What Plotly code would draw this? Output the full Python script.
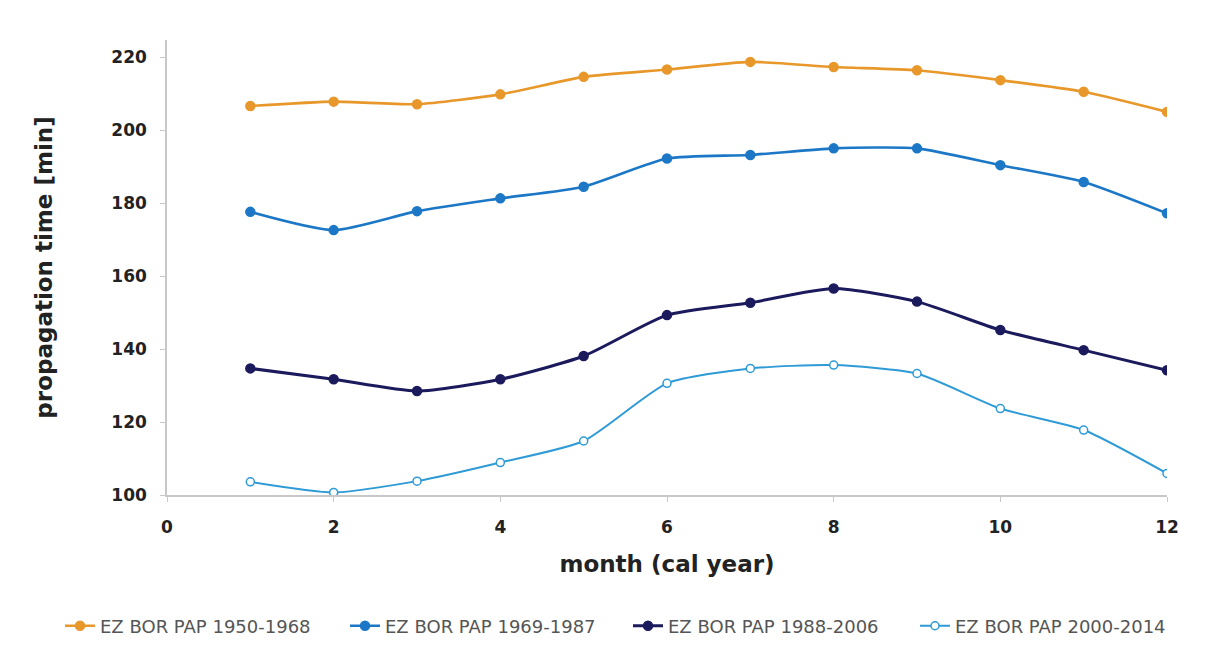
import plotly.graph_objects as go

months = list(range(1, 13))

series_names = [
    "EZ BOR PAP 1950-1968",
    "EZ BOR PAP 1969-1987",
    "EZ BOR PAP 1988-2006",
    "EZ BOR PAP 2000-2014",
]

ez_1950_1968 = [206.6, 207.8, 207.1, 209.8, 214.6, 216.6, 218.7, 217.3, 216.4, 213.7, 210.5, 205.0]
ez_1969_1987 = [177.6, 172.6, 177.8, 181.3, 184.5, 192.2, 193.2, 195.0, 195.0, 190.4, 185.8, 177.2]
ez_1988_2006 = [134.7, 131.7, 128.5, 131.7, 138.1, 149.3, 152.7, 156.6, 153.0, 145.2, 139.7, 134.2]
ez_2000_2014 = [103.6, 100.7, 103.8, 108.9, 114.8, 130.6, 134.7, 135.6, 133.3, 123.7, 117.8, 105.9]

x_ticks = [0, 2, 4, 6, 8, 10, 12]
y_ticks = [100, 120, 140, 160, 180, 200, 220]

styles = [
    dict(color="#E8982B", width=2.6, msize=9, fill="#E8982B"),
    dict(color="#1C78C6", width=2.6, msize=9, fill="#1C78C6"),
    dict(color="#1B1A5C", width=3.0, msize=9, fill="#1B1A5C"),
    dict(color="#2E9AD6", width=2.0, msize=8, fill="white"),
]

# one single-entry legend per series so the row spacing is fixed
legend_ids = ["legend", "legend2", "legend3", "legend4"]
legend_x = [-0.107, 0.178, 0.461, 0.748]  # paper fractions of the plot width

fig = go.Figure()
for name, vals, st, lid in zip(series_names,
                               [ez_1950_1968, ez_1969_1987, ez_1988_2006, ez_2000_2014],
                               styles, legend_ids):
    fig.add_trace(go.Scatter(
        x=months, y=vals, name=name, mode="lines+markers", legend=lid,
        line=dict(color=st["color"], width=st["width"], shape="spline", smoothing=0.6),
        marker=dict(size=st["msize"], color=st["fill"], symbol="circle",
                    line=dict(color=st["color"], width=1.5)),
    ))

tick_font = dict(family="DejaVu Sans", size=17, color="#222222")
title_font = dict(family="DejaVu Sans", size=23, color="#222222")

fig.update_layout(
    width=1218, height=646,
    showlegend=True,
    margin=dict(l=167, r=51, t=40, b=151, autoexpand=False),
    paper_bgcolor="white", plot_bgcolor="white",
    font=dict(family="DejaVu Sans"),
    xaxis=dict(
        range=[0, 12], tickvals=x_ticks, ticktext=[f"<b>{v}</b>" for v in x_ticks],
        showgrid=False, zeroline=False, showline=True, linecolor="#C8C8C8", linewidth=1.5,
        ticks="outside", ticklen=5, tickcolor="#C8C8C8",
        tickfont=tick_font, ticklabelstandoff=11,
        title=dict(text="<b>month (cal year)</b>", font=title_font, standoff=20),
    ),
    yaxis=dict(
        range=[100, 224.7], tickvals=y_ticks, ticktext=[f"<b>{v}</b>" for v in y_ticks],
        showgrid=False, zeroline=False, showline=True, linecolor="#C8C8C8", linewidth=1.5,
        ticks="outside", ticklen=5, tickcolor="#C8C8C8",
        tickfont=tick_font, ticklabelstandoff=10,
        title=dict(text="<b>propagation time [min]</b>", font=title_font, standoff=52),
    ),
)

for lid, lx in zip(legend_ids, legend_x):
    fig.update_layout({lid: dict(
        orientation="h", x=lx, xanchor="left",
        y=-0.288, yanchor="middle",
        font=dict(family="DejaVu Sans", size=18, color="#555555"),
        itemwidth=30, bgcolor="rgba(0,0,0,0)",
    )})

fig.write_html("out.html")
